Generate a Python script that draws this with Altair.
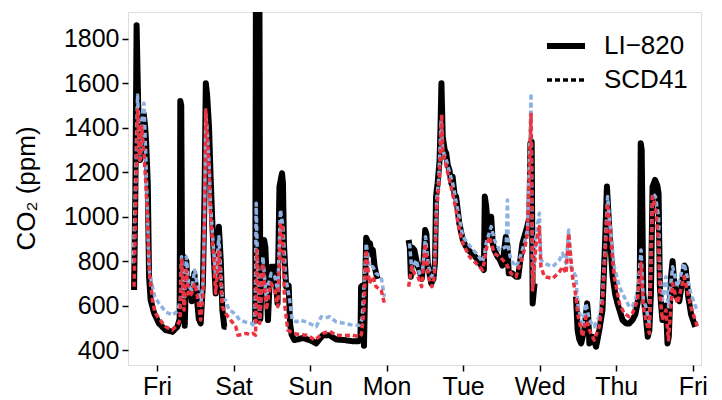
import altair as alt
import pandas as pd

# ---------------- data (hours since Thursday 00:00, CO2 in ppm); None = gap ----------------
DAY_NAMES = ["Thu", "Fri", "Sat", "Sun", "Mon", "Tue", "Wed", "Thu", "Fri"]
DAY_TICKS = [24, 48, 72, 96, 120, 144, 168, 192]
Y_TICKS = [400, 600, 800, 1000, 1200, 1400, 1600, 1800]
SENSORS = ["LI\u2212820", "SCD41"]

LI820_HOURS = [
    16.8, 17.2, 17.6, 18.1, 18.7, 19.2, 19.8, 20.3, 20.6, 21.1, 21.5, 22.0, 23.1, 24.6, 26.7,
    28.8, 30.4, 31.1, 31.3, 31.6, 31.9, 32.4, 32.7, 33.2, 33.6, 34.2, 34.9, 35.7, 36.4, 37.1,
    37.7, 38.4, 38.9, 39.3, 39.7, 40.3, 40.8, 41.6, 42.4, 43.0, 43.4, 44.0, 44.5, 45.1, 45.8,
    None,
    54.8, 55.1, 56.0, 56.4, 56.8, 57.6, 58.0, 58.8, 59.3, 59.8, 60.9, 61.8, 62.4, 63.2, 63.5,
    63.8, 64.5, 65.3, 65.7, 66.2, 67.1, 68.7, 69.7, 71.8, 72.7, 73.9, 75.0, 76.0, 78.1, 80.2,
    82.8, 85.3, 87.2, 87.8, 88.0, 88.4, 88.9, 89.3, 89.6, 90.3, 90.8, 91.3, 91.7, 92.2, 92.7,
    93.2,
    None,
    102.9, 103.3, 103.6, 104.1, 104.7, 105.4, 105.8, 106.3, 107.0, 107.6, 108.1, 108.5, 108.9,
    110.0, 110.7, 111.2, 111.5, 112.0, 112.6, 112.9, 113.2, 113.6, 114.2, 114.7, 115.2, 115.7,
    116.3, 116.7, 117.3, 117.8, 118.3, 118.8, 119.9, 120.7, 122.0, 124.1, 126.1, 126.5, 126.8,
    127.2, 127.7, 128.2, 128.8, 129.3, 129.8, 130.8, 131.4, 132.3, 133.4, 133.9, 134.3, 135.4,
    136.6, 137.3, 137.8, 138.6, 139.2, 140.2, 140.8, 141.1, 141.5, 141.8, 142.4,
    None,
    155.4, 155.9, 156.4, 157.0, 157.5, 158.0, 158.9, 159.2, 159.6, 160.6, 161.7, 162.7, 163.7,
    164.5, 165.1, 165.8, 166.9, 167.7, 168.4, 170.0, 171.1, 172.1, 173.1, 174.0, 174.7, 175.4,
    175.7, 176.0, 176.5, 177.3, 177.9, 178.4, 178.9, 179.4, 180.2, 180.9, 181.3, 181.7, 182.1,
    182.5, 183.1, 183.6, 184.1, 184.5, 185.2, 185.7, 186.2, 186.9, 187.8, 188.6, 189.4, 189.8,
    190.6, 191.5, 192.8,
]
LI820_PPM = [
    670, 1100, 1860, 1500, 1255, 1300, 1465, 1400, 1330, 1150, 730, 625, 566, 520, 490,
    482, 505, 540, 1520, 1500, 650, 820, 510, 800, 680, 720, 620, 745, 650, 540,
    520, 700, 1100, 1600, 1550, 1405, 1180, 880, 655, 880, 955, 800, 580, 505, 505,
    None,
    520, 2600, 2600, 540, 700, 895, 860, 535, 700, 775, 775, 610, 1135, 1195, 1150,
    880, 685, 690, 520, 470, 445, 450, 455, 445, 440, 430, 450, 467, 467, 448,
    445, 440, 440, 450, 685, 690, 420, 700, 905, 880, 880, 830, 850, 780, 745,
    720,
    None,
    895, 860, 730, 860, 850, 800, 775, 760, 720, 800, 940, 920, 790,
    700, 720, 800, 1090, 1150, 1250, 1400, 1600, 1360, 1300, 1285, 1230, 1210,
    1150, 1180, 1100, 1090, 1030, 970, 895, 870, 845, 815, 770, 760, 1090,
    1050, 970, 900, 1000, 880, 850, 820, 810, 780, 910, 870, 745, 745,
    730, 730, 790, 880, 910, 960, 1000, 1330, 1337, 610, 700,
    None,
    640, 490, 450, 430, 460, 490, 610, 560, 430, 460, 415, 490, 580,
    880, 1135, 955, 730, 650, 610, 535, 520, 520, 535, 560, 610, 700,
    1330, 1300, 655, 550, 460, 490, 655, 1135, 1165, 1140, 1105, 685, 600,
    535, 580, 600, 430, 460, 730, 800, 700, 640, 620, 700, 780, 770,
    640, 560, 505,
]

SCD_BLUE_HOURS = [
    16.5, 17.0, 17.9, 18.3, 18.6, 19.0, 19.4, 19.9, 20.3, 21.0, 21.4, 21.7, 22.6, 23.3, 24.6,
    26.7, 28.8, 30.4, 31.3, 31.7, 32.5, 33.2, 34.0, 34.9, 35.8, 36.7, 37.7, 38.4, 38.9, 39.3,
    39.7, 40.3, 40.8, 41.6, 42.4, 43.4, 44.0, 44.5, 45.5, 46.6, 47.6, 48.7, 49.9, 52.0, 53.6,
    54.6, 54.9, 55.1, 55.5, 56.2, 57.2, 58.3, 59.0, 59.8, 60.9, 61.9, 62.7, 63.5, 64.3, 65.6,
    66.4, 67.7, 68.7, 70.8, 72.5, 73.9, 75.5, 76.9, 78.1, 80.2, 82.8, 85.4, 87.5, 88.3, 88.9,
    89.6, 90.6, 91.7, 92.7, 94.3, 95.3,
    None,
    103.2, 103.9, 105.3, 106.3, 107.3, 108.2, 109.1, 110.2, 111.0, 111.7, 112.4, 113.1, 113.6,
    114.7, 115.7, 116.7, 118.3, 119.9, 122.0, 124.1, 126.1, 126.7, 127.2, 128.8, 129.8, 131.4,
    133.5, 133.9, 134.2, 135.0, 136.6, 137.6, 139.2, 140.2, 141.3, 141.8, 142.9, 143.9, 144.4,
    145.5, 148.1, 150.2, 151.2, 152.3, 153.1, 153.8, 155.4, 155.9, 157.5, 158.5, 159.6, 161.1,
    162.7, 163.7, 164.6, 165.3, 166.1, 167.4, 169.0, 170.5, 172.1, 173.1, 174.7, 175.8, 176.5,
    177.3, 178.4, 179.4, 180.3, 181.3, 181.7, 182.5, 183.6, 184.4, 185.7, 187.2, 189.3, 191.4,
    193.5,
]
SCD_BLUE_PPM = [
    790, 1000, 1547, 1400, 1255, 1300, 1465, 1510, 1350, 1030, 800, 745, 685, 640, 610,
    572, 557, 575, 620, 820, 610, 820, 685, 670, 760, 690, 600, 700, 1000, 1465,
    1400, 1255, 1050, 880, 730, 910, 750, 625, 625, 580, 572, 560, 535, 525, 520,
    505, 700, 1060, 800, 535, 820, 625, 700, 745, 730, 670, 1030, 955, 730, 625,
    535, 527, 535, 527, 515, 505, 550, 545, 550, 527, 520, 512, 512, 540, 680,
    880, 775, 775, 745, 730, 640,
    None,
    880, 760, 805, 745, 760, 910, 775, 730, 760, 1075, 1180, 1435, 1300,
    1255, 1200, 1150, 1030, 910, 870, 835, 797, 830, 880, 955, 895, 850,
    865, 1075, 860, 805, 775, 805, 880, 940, 1555, 700, 925, 1015, 805,
    790, 775, 805, 835, 790, 940, 775, 730, 610, 505, 610, 535, 505,
    550, 640, 880, 1090, 955, 775, 685, 640, 595, 595, 655, 850, 625,
    595, 520, 1105, 1090, 1000, 730, 625, 730, 595, 775, 685, 790, 655,
    572,
]

SCD_RED_HOURS = [
    16.8, 17.4, 17.9, 18.6, 19.2, 19.9, 20.5, 21.0, 21.7, 22.6, 23.3, 24.6, 26.7, 28.8, 30.4,
    31.2, 31.7, 32.5, 33.2, 34.0, 34.9, 35.8, 36.7, 37.7, 38.4, 38.9, 39.3, 39.7, 40.3, 40.8,
    41.6, 42.4, 43.4, 44.0, 44.5, 45.5, 47.1, 48.7, 49.4, 50.5, 52.0, 53.0, 54.1, 54.9, 55.3,
    55.7, 56.2, 57.2, 58.3, 59.0, 59.8, 60.9, 61.9, 62.7, 63.3, 64.0, 65.0, 66.6, 68.7, 70.8,
    72.5, 73.4, 74.3, 76.0, 78.1, 80.2, 82.8, 85.4, 87.5, 88.1, 88.9, 89.6, 90.6, 91.7, 92.7,
    94.3, 95.3,
    None,
    102.9, 103.9, 104.7, 105.8, 107.0, 108.1, 109.1, 110.2, 111.0, 111.7, 112.6, 113.3, 113.6,
    114.7, 116.2, 117.8, 118.8, 119.9, 122.0, 124.1, 126.1, 126.7, 127.2, 128.2, 129.8, 131.4,
    133.5, 135.0, 136.6, 137.6, 139.2, 140.2, 141.3, 141.8, 142.9, 143.9, 144.4, 145.5, 148.1,
    150.2, 151.2, 152.3, 153.1, 154.3, 155.4, 155.9, 157.5, 158.5, 159.6, 161.1, 162.7, 163.7,
    164.6, 165.3, 166.1, 167.4, 169.0, 170.5, 172.1, 173.1, 174.7, 175.8, 176.5, 177.3, 178.4,
    179.4, 180.3, 181.3, 181.7, 182.5, 183.6, 184.4, 185.7, 187.2, 189.3, 191.4, 193.5,
]
SCD_RED_PPM = [
    685, 1100, 1480, 1255, 1405, 1285, 1150, 1000, 730, 625, 570, 542, 505, 490, 512,
    535, 805, 580, 760, 640, 655, 700, 640, 535, 640, 1000, 1480, 1380, 1225, 1000,
    850, 655, 850, 700, 595, 565, 535, 505, 467, 470, 475, 470, 475, 467, 850,
    700, 520, 790, 580, 650, 700, 670, 595, 970, 955, 610, 490, 475, 470, 467,
    455, 445, 455, 475, 485, 467, 465, 467, 460, 470, 580, 850, 700, 730, 685,
    670, 610,
    None,
    685, 775, 745, 730, 685, 880, 730, 685, 730, 1030, 1180, 1460, 1300,
    1225, 1135, 1030, 940, 880, 820, 790, 760, 800, 850, 910, 835, 820,
    790, 745, 730, 775, 850, 925, 1460, 670, 880, 955, 775, 730, 722,
    752, 775, 745, 925, 730, 640, 565, 460, 550, 490, 445, 505, 610,
    850, 1060, 925, 730, 610, 565, 550, 565, 625, 790, 595, 535, 475,
    1090, 1045, 880, 655, 535, 580, 445, 700, 610, 730, 595, 505,
]


def build(name, sensor, hours, ppm):
    rows, seg = [], 0
    for h, v in zip(hours, ppm):
        if h is None or v is None:
            seg += 1
            continue
        rows.append({"hours": h, "ppm": v, "series": name, "sensor": sensor,
                     "seg": f"{name}-{seg}"})
    return pd.DataFrame(rows)


df_li = build("LI820", SENSORS[0], LI820_HOURS, LI820_PPM)
df_blue = build("SCD41a", SENSORS[1], SCD_BLUE_HOURS, SCD_BLUE_PPM)
df_red = build("SCD41b", SENSORS[1], SCD_RED_HOURS, SCD_RED_PPM)

FONT = "Liberation Sans"
label_expr = "[" + ",".join(f"'{d}'" for d in DAY_NAMES) + "][round(datum.value/24)]"

x_enc = alt.X("hours:Q",
              scale=alt.Scale(domain=[14.9, 194.6], nice=False, zero=False),
              axis=alt.Axis(values=DAY_TICKS, labelExpr=label_expr, title=None,
                            grid=False, domain=False, ticks=True, tickSize=6,
                            tickWidth=1.5, tickColor="black", labelFontSize=25,
                            labelColor="black", labelFont=FONT, labelPadding=3,
                            labelFlush=False))
y_enc = alt.Y("ppm:Q",
              scale=alt.Scale(domain=[333, 1920], nice=False, zero=False),
              axis=alt.Axis(values=Y_TICKS, format="d", title="CO\u2082 (ppm)",
                            grid=False, domain=False, ticks=True, tickSize=6,
                            tickWidth=1.5, tickColor="black", labelFontSize=25,
                            labelColor="black", labelFont=FONT, labelPadding=3,
                            titleFont=FONT, titleFontSize=26, titleFontWeight="normal",
                            titleColor="black", titleAngle=270, titleX=-102,
                            titleY=176, titleAlign="center", titleBaseline="middle"))

legend = alt.Legend(title=None, orient="none", legendX=416, legendY=12,
                    symbolType="stroke", symbolSize=1444, symbolStrokeColor="black",
                    labelFont=FONT, labelFontSize=26, labelColor="black",
                    labelOffset=16, rowPadding=-7, padding=0)
dash_enc = alt.StrokeDash("sensor:N",
                          scale=alt.Scale(domain=SENSORS, range=[[1, 0], [5, 3]]),
                          legend=legend)
width_enc = alt.StrokeWidth("sensor:N",
                            scale=alt.Scale(domain=SENSORS, range=[6, 3.5]),
                            legend=legend)


def layer(df, colour):
    return alt.Chart(df).mark_line(clip=True, strokeJoin="round").encode(
        x=x_enc, y=y_enc, color=alt.value(colour), strokeDash=dash_enc,
        strokeWidth=width_enc, detail="seg:N", order="hours:Q")


chart = alt.layer(
    layer(df_li, "#000000"),
    layer(df_blue, "#8DB1E2"),
    layer(df_red, "#EC3440"),
).properties(
    width=573, height=353,
    autosize=alt.AutoSizeParams(type="none"),
    padding={"left": 120, "top": 4, "right": 12, "bottom": 35},
).configure_view(stroke="black", strokeWidth=1.5).configure(background="white")

chart.save("out.html", embed_options={"renderer": "svg", "actions": False})
